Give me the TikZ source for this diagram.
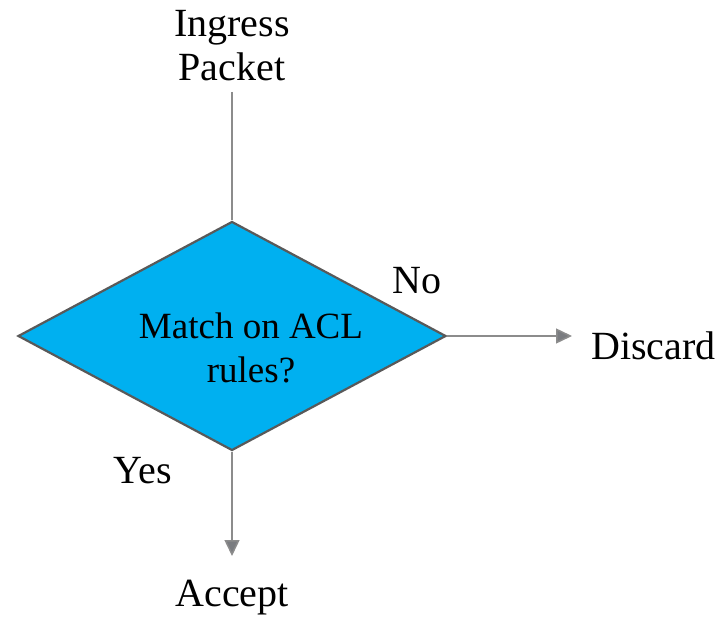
\documentclass[tikz,border=0pt]{standalone}
\usepackage{fontspec}
\setmainfont{Liberation Serif}
\usetikzlibrary{arrows.meta, shapes.geometric, positioning}

\definecolor{aclblue}{HTML}{00B0F0}
\definecolor{edgegray}{HTML}{595959}
\definecolor{linegray}{HTML}{8C8C8C}
\definecolor{tipgray}{HTML}{7A7C80}

\begin{document}
\begin{tikzpicture}[x=1pt, y=-1pt,
    >={Triangle[length=16pt, width=15pt, fill=tipgray]},
    every node/.style={font=\fontsize{40}{44}\selectfont, align=center, inner sep=0pt},
    decision/.style={diamond, draw=edgegray, line width=2.2pt, fill=aclblue,
        minimum width=428pt, minimum height=229pt, aspect=1.87},
    flow/.style={draw=linegray, line width=1.5pt}]

    \useasboundingbox (0,0) rectangle (721,618);

    \node (ingress) at (232,46) {Ingress\\Packet};
    \node[decision] (match) at (232,336) {};
    \node[font=\fontsize{37}{44}\selectfont] (question) at (251,348) {Match on ACL\\rules?};
    \node[anchor=west] (discard) at (591,346) {Discard};
    \node (accept) at (232,598) {Accept};
    \node (no) at (417,281) {No};
    \node (yes) at (143,471) {Yes};

    \coordinate (top) at (232,92);
    \coordinate (righttip) at (572,336);
    \coordinate (downtip) at (232,556);

    \draw[flow] (top) -- (match.north);
    \draw[flow,->] (match.east) -- (righttip);
    \draw[flow,->] (match.south) -- (downtip);
\end{tikzpicture}
\end{document}
